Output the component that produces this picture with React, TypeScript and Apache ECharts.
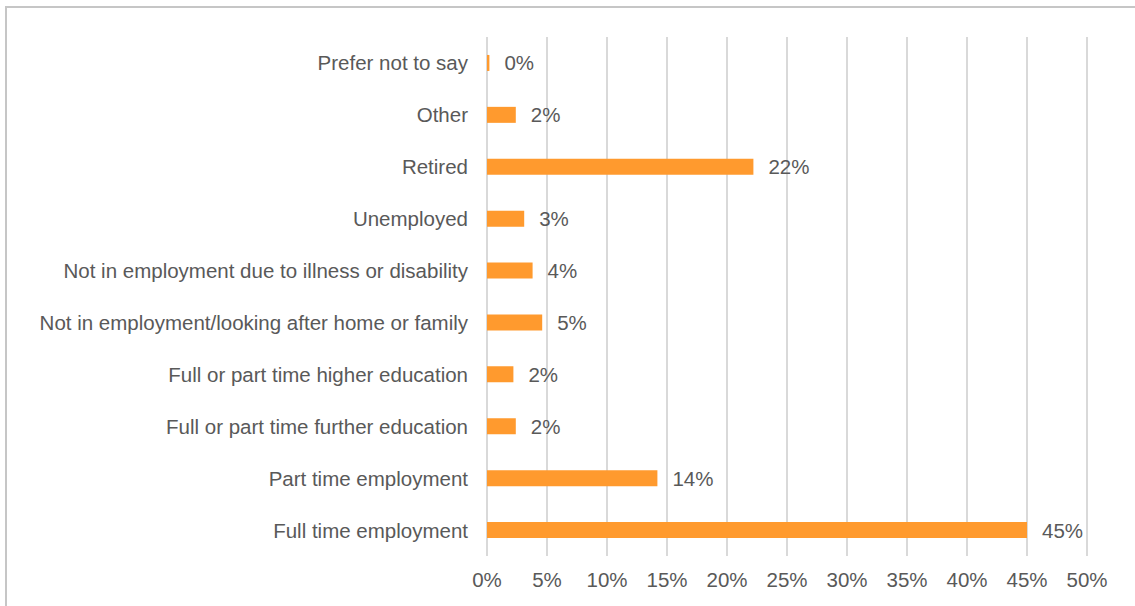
import React, { useEffect, useRef } from "react";
import * as echarts from "echarts";

const categories = [
  "Full time employment",
  "Part time employment",
  "Full or part time further education",
  "Full or part time higher education",
  "Not in employment/looking after home or family",
  "Not in employment due to illness or disability",
  "Unemployed",
  "Retired",
  "Other",
  "Prefer not to say",
];
const values = [45.0, 14.2, 2.4, 2.2, 4.6, 3.8, 3.1, 22.2, 2.4, 0.2];
const xTicks = [0, 5, 10, 15, 20, 25, 30, 35, 40, 45, 50];

export default function App() {
  const ref = useRef<HTMLDivElement>(null);
  useEffect(() => {
    const chart = echarts.init(ref.current!, null, { renderer: "svg" });
    const font = "'Liberation Sans', Arial, sans-serif";
    chart.setOption({
      animation: false,
      graphic: [
        {
          type: "rect",
          shape: { x: 6, y: 7, width: 1140, height: 610 },
          style: { fill: "none", stroke: "#c6c6c6", lineWidth: 2 },
        },
      ],
      grid: { left: 487, right: 48, top: 37, bottom: 50, containLabel: false },
      xAxis: {
        type: "value",
        min: xTicks[0],
        max: xTicks[xTicks.length - 1],
        interval: 5,
        axisLine: { show: false },
        axisTick: { show: false },
        splitLine: { show: true, lineStyle: { color: "#d9d9d9", width: 2 } },
        axisLabel: {
          formatter: (v: number) => `${v}%`,
          color: "#595959",
          fontSize: 20.5,
          fontFamily: font,
          margin: 13,
        },
      },
      yAxis: {
        type: "category",
        data: categories,
        axisLine: { show: false },
        axisTick: { show: false },
        axisLabel: { color: "#595959", fontSize: 20.5, fontFamily: font, margin: 19 },
      },
      series: [
        {
          type: "bar",
          data: values,
          barWidth: 16,
          itemStyle: { color: "#FF9A2E" },
          label: {
            show: true,
            position: "right",
            distance: 15,
            color: "#595959",
            fontSize: 20.5,
            fontFamily: font,
            formatter: (p: any) => `${Math.round(p.value)}%`,
          },
        },
      ],
    });
    return () => chart.dispose();
  }, []);
  return (
    <div
      ref={ref}
      style={{ position: "fixed", left: 0, top: 0, width: 1135, height: 606, background: "#fff" }}
    />
  );
}
